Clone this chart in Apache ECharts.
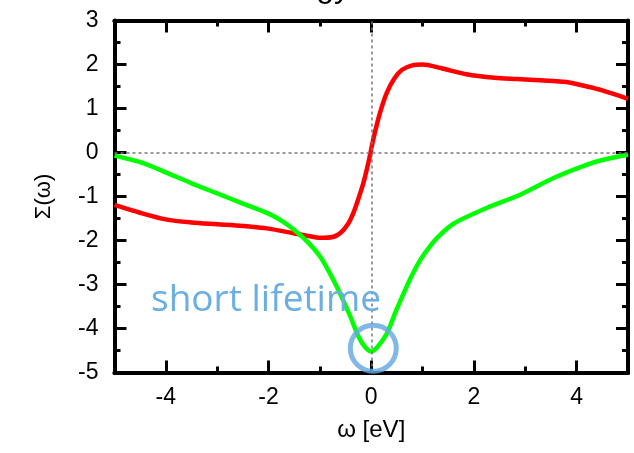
<!DOCTYPE html>
<html>
<head>
<meta charset="utf-8">
<script src="https://cdn.jsdelivr.net/npm/echarts@6/dist/echarts.min.js"></script>
<style>
  html, body { margin: 0; padding: 0; background: #fff; }
  #chart { width: 634px; height: 453px; }
</style>
</head>
<body>
<div id="chart"></div>
<script>
// self-energy curves
const redOmega = [-5, -4.5, -4, -3.5, -3, -2.5, -2, -1.5, -1.25, -1, -0.75, -0.6, -0.45, -0.35, -0.25, -0.15, -0.05, 0.05, 0.17, 0.3, 0.45, 0.6, 0.8, 1.0, 1.35, 1.85, 2.4, 2.85, 3.3, 3.8, 4.2, 4.5, 5]
const redSigma = [-1.19, -1.37, -1.52, -1.59, -1.63, -1.67, -1.73, -1.84, -1.89, -1.94, -1.92, -1.83, -1.62, -1.38, -1.05, -0.68, -0.2, 0.35, 0.9, 1.35, 1.68, 1.88, 1.98, 2.0, 1.92, 1.78, 1.70, 1.67, 1.64, 1.60, 1.50, 1.41, 1.22]

const greenOmega = [-5, -4.5, -4, -3.5, -3, -2.5, -2, -1.75, -1.5, -1.25, -1, -0.75, -0.55, -0.4, -0.25, -0.12, 0, 0.12, 0.3, 0.5, 0.75, 0.95, 1.14, 1.3, 1.6, 2.25, 2.9, 3.55, 4.19, 4.5, 5]
const greenSigma = [-0.07, -0.22, -0.45, -0.7, -0.93, -1.16, -1.39, -1.55, -1.76, -2.02, -2.36, -2.87, -3.35, -3.75, -4.18, -4.42, -4.52, -4.42, -4.12, -3.55, -2.89, -2.45, -2.14, -1.92, -1.62, -1.26, -0.96, -0.58, -0.28, -0.17, -0.05]

const xMajorTicks = [-4, -2, 0, 2, 4]
const xMinorTicks = [-3, -1, 1, 3]
const markedPoint = [0.04, -4.45]

const chart = echarts.init(document.getElementById('chart'))

const zip = (xs, ys) => xs.map((x, i) => [x, ys[i]])

const labelFont = {
  color: '#000',
  fontSize: 23,
  fontFamily: 'Liberation Sans'
}

// one x axis (bottom or top), major or minor ticks only
function xAxisOf (position, ticks, len, withLabels) {
  return {
    type: 'value',
    position: position,
    min: -5,
    max: 5,
    interval: 1,
    splitLine: { show: false },
    axisLine: { show: true, onZero: false, lineStyle: { color: '#000', width: 4 } },
    axisTick: { inside: true, length: len, customValues: ticks, lineStyle: { color: '#000', width: 3 } },
    axisLabel: withLabels
      ? Object.assign({ customValues: ticks, margin: 14 }, labelFont)
      : { show: false },
    name: withLabels ? 'ω [eV]' : '',
    nameLocation: 'middle',
    nameGap: 46,
    nameTextStyle: { color: '#000', fontSize: 24, fontFamily: 'Liberation Sans' }
  }
}

function yAxisOf (position, withLabels) {
  return {
    type: 'value',
    position: position,
    min: -5,
    max: 3,
    interval: 1,
    splitLine: { show: false },
    axisLine: { show: true, onZero: false, lineStyle: { color: '#000', width: 4 } },
    axisTick: { inside: true, length: 12, lineStyle: { color: '#000', width: 3 } },
    minorTick: { show: true, splitNumber: 2, length: 6, lineStyle: { color: '#000', width: 3 } },
    axisLabel: withLabels ? Object.assign({ margin: 16 }, labelFont) : { show: false },
    name: withLabels ? 'Σ(ω)' : '',
    nameLocation: 'middle',
    nameGap: 60,
    nameTextStyle: { color: '#000', fontSize: 22, fontFamily: 'Liberation Sans' }
  }
}

const option = {
  backgroundColor: '#fff',
  animation: false,
  grid: { left: 114.5, right: 6, top: 20.5, bottom: 80.5 },
  xAxis: [
    xAxisOf('bottom', xMajorTicks, 12, true),
    xAxisOf('bottom', xMinorTicks, 6, false),
    xAxisOf('top', xMajorTicks, 12, false),
    xAxisOf('top', xMinorTicks, 6, false)
  ],
  yAxis: [
    yAxisOf('left', true),
    yAxisOf('right', false)
  ],
  graphic: [
    {
      // title cut off at the top edge
      type: 'text',
      x: 350,
      y: 4,
      style: {
        text: 'Self-energy',
        align: 'right',
        verticalAlign: 'bottom',
        font: '32px "Liberation Sans"',
        fill: '#000'
      }
    },
    {
      type: 'text',
      x: 151,
      y: 282,
      z: 10,
      style: {
        text: 'short lifetime',
        align: 'left',
        verticalAlign: 'top',
        font: '37px "Open Sans"',
        fill: '#6aaee2'
      }
    }
  ],
  series: [
    {
      // dotted zero lines
      type: 'line',
      data: [],
      z: 1,
      silent: true,
      markLine: {
        silent: true,
        symbol: 'none',
        label: { show: false },
        lineStyle: { color: '#777', type: [3, 3], width: 1.5 },
        data: [{ xAxis: 0 }, { yAxis: 0 }]
      }
    },
    {
      name: 'red',
      type: 'line',
      data: zip(redOmega, redSigma),
      z: 2,
      smooth: 0.3,
      showSymbol: false,
      lineStyle: { color: '#ff0000', width: 4.5 }
    },
    {
      name: 'green',
      type: 'line',
      data: zip(greenOmega, greenSigma),
      z: 3,
      smooth: 0.3,
      showSymbol: false,
      lineStyle: { color: '#00ff00', width: 4.5 }
    },
    {
      // blue ring around the minimum
      type: 'scatter',
      data: [markedPoint],
      z: 5,
      symbol: 'circle',
      symbolSize: 46,
      itemStyle: { color: 'rgba(0,0,0,0)', borderColor: '#62a6de', borderWidth: 5 }
    }
  ]
}

chart.setOption(option)
</script>
</body>
</html>
